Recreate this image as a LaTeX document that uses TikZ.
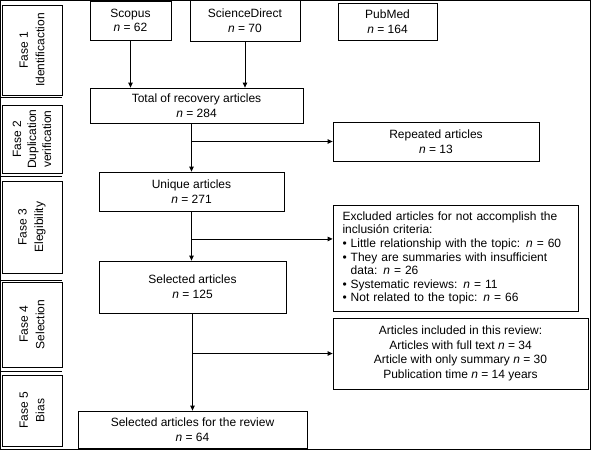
\documentclass[tikz,border=0pt]{standalone}
\usepackage{fontspec}
\setmainfont{Liberation Sans}
\usetikzlibrary{arrows.meta,calc}

\begin{document}
\begin{tikzpicture}[
  x=1pt, y=-1pt,
  every node/.style={font=\fontsize{12}{14.6}\selectfont},
  box/.style={draw, line width=0.8pt, inner sep=0pt, align=center},
  phase/.style={draw, line width=0.8pt, inner sep=0pt, align=center, rotate=90, minimum height=60pt, font=\fontsize{12}{16.5}\selectfont},
  arrow/.style={-{Triangle[length=5pt,width=4.5pt]}, line width=0.8pt}
]
\useasboundingbox (0,0) rectangle (591,450);
\draw[line width=0.8pt] (0.5,0.5) rectangle (590,449);

% phase column
\node[phase, minimum width=90pt] (f1) at (32,50) {Fase 1\\Identificaction};
\node[phase, minimum width=68pt, font=\fontsize{12}{15}\selectfont] (f2) at (32,139) {Fase 2\\Duplication\\verification};
\node[phase, minimum width=92pt] (f3) at (32,227) {Fase 3\\Elegibility};
\node[phase, minimum width=85pt] (f4) at (32,324.5) {Fase 4\\Selection};
\node[phase, minimum width=71pt] (f5) at (32,410.5) {Fase 5\\Bias};
\foreach \y in {97,176,280,371}
  \draw[line width=0.8pt] (0,\y) -- (62,\y);

% sources
\node[box, minimum width=81pt, minimum height=39pt] (scopus) at (130.5,20.5) {Scopus\\\textit{n} = 62};
\node[box, minimum width=110pt, minimum height=41pt] (sd) at (245,20.5) {ScienceDirect\\\textit{n} = 70};
\node[box, minimum width=99pt, minimum height=37pt] (pubmed) at (387.5,21.5) {PubMed\\\textit{n} = 164};

% main flow
\node[box, minimum width=213pt, minimum height=35pt] (total) at (196.5,105.5) {Total of recovery articles\\\textit{n} = 284};
\node[box, minimum width=206pt, minimum height=39pt] (repeated) at (436,141.5) {Repeated articles\\\textit{n} = 13};
\node[box, minimum width=185pt, minimum height=39pt] (unique) at (191.5,191.5) {Unique articles\\\textit{n} = 271};
\node[box, align=left, text width=226pt, inner xsep=9.5pt, minimum height=106pt, font=\fontsize{12}{13.6}\selectfont] (excluded) at (455.5,258) {Excluded articles for not accomplish the\\inclusión criteria:\\\textbullet{} Little relationship with the topic: \textit{n} = 60\\\textbullet{} They are summaries with insufficient\\\phantom{\textbullet{} }data: \textit{n} = 26\\\textbullet{} Systematic reviews: \textit{n} = 11\\\textbullet{} Not related to the topic: \textit{n} = 66};
\node[box, minimum width=187pt, minimum height=52pt] (selected) at (192.5,287) {Selected articles\\\textit{n} = 125};
\node[box, minimum width=255pt, minimum height=71pt] (included) at (460.5,353.5) {Articles included in this review:\\Articles with full text \textit{n} = 34\\Article with only summary \textit{n} = 30\\Publication time \textit{n} = 14 years};
\node[box, minimum width=229pt, minimum height=37pt] (final) at (192.5,429.5) {Selected articles for the review\\\textit{n} = 64};

% connectors
\draw[arrow] (scopus) -- (scopus |- total.north);
\draw[arrow] (sd) -- (sd |- total.north);
\draw[arrow] (total.south -| unique) -- (unique);
\draw[arrow] (repeated.west -| unique) -- (repeated);
\draw[arrow] (unique.south) -- (unique.south |- selected.north);
\coordinate (b2) at ($(unique.south)!0.56!(selected.north)$);
\draw[arrow] (b2) -- (b2 -| excluded.west);
\draw[arrow] (selected) -- (final);
\draw[arrow] (included.west -| selected) -- (included);
\end{tikzpicture}
\end{document}
